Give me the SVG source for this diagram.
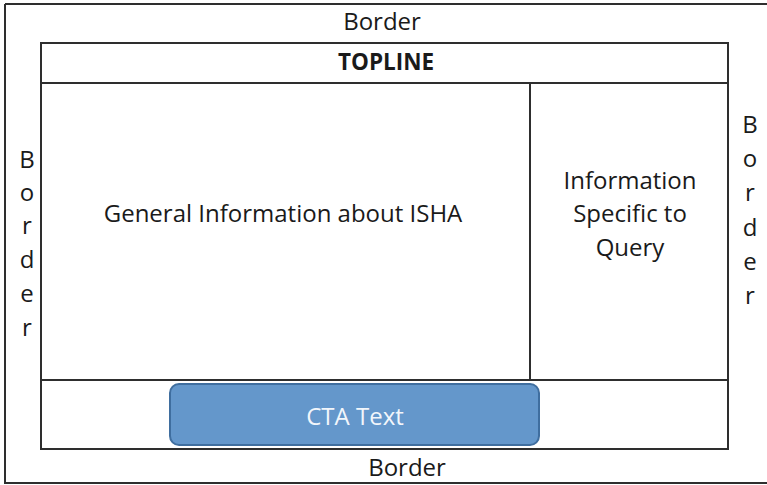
<svg xmlns="http://www.w3.org/2000/svg" width="767" height="485" viewBox="0 0 767 485">
<style>
.t{font-family:"Open Sans","Liberation Sans",sans-serif;font-size:24px;fill:#1a1a1a;text-anchor:middle}
.b{font-weight:bold;font-size:22.5px}
.ln{fill:none;stroke:#2e2e2e;stroke-width:2}
</style>
<rect x="0" y="0" width="767" height="485" fill="#ffffff"/>
<g id="outer-border">
<path class="ln" d="M5,4 H767 M5,4 V483 H767" stroke="#222"/>
</g>
<g id="border-top"><text class="t" x="382" y="30">Border</text></g>
<g id="border-bottom"><text class="t" x="407" y="476">Border</text></g>
<g id="border-left">
<text class="t" x="27" y="168">B</text>
<text class="t" x="27" y="201">o</text>
<text class="t" x="27" y="234">r</text>
<text class="t" x="27" y="268">d</text>
<text class="t" x="27" y="302">e</text>
<text class="t" x="27" y="336">r</text>
</g>
<g id="border-right">
<text class="t" x="750" y="133">B</text>
<text class="t" x="750" y="167">o</text>
<text class="t" x="750" y="201">r</text>
<text class="t" x="750" y="236">d</text>
<text class="t" x="750" y="270">e</text>
<text class="t" x="750" y="304">r</text>
</g>
<g id="topline">
<rect class="ln" x="41" y="43" width="687" height="40"/>
<text class="t b" x="386" y="70">TOPLINE</text>
</g>
<g id="general-info">
<rect class="ln" x="41" y="83" width="489" height="297"/>
<text class="t" x="283" y="222">General Information about ISHA</text>
</g>
<g id="specific-info">
<rect class="ln" x="530" y="83" width="198" height="297"/>
<text class="t" x="630" y="189">Information</text>
<text class="t" x="630" y="222">Specific to</text>
<text class="t" x="630" y="256">Query</text>
</g>
<g id="cta-row">
<rect class="ln" x="41" y="380" width="687" height="69"/>
</g>
<g id="cta">
<rect x="170" y="384" width="369" height="61" rx="9" ry="9" fill="#6497cb" stroke="#3f6e9f" stroke-width="2"/>
<text class="t" x="355" y="425" style="fill:#f2f6fb">CTA Text</text>
</g>
<g id="connectors"/>
</svg>
